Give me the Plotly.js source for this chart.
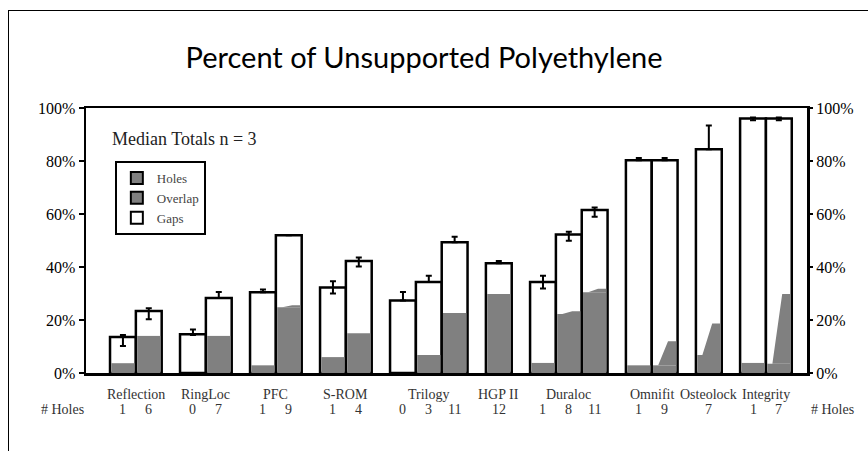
<!DOCTYPE html>
<html><head><meta charset="utf-8">
<script src="https://cdn.plot.ly/plotly-3.0.1.min.js"></script>
<style>html,body{margin:0;padding:0;background:#fff;overflow:hidden}
#chart{position:absolute;left:0;top:0;width:868px;height:451px}
#frame{position:absolute;left:8px;top:10px;width:900px;height:500px;border-left:1.5px solid #000;border-top:1.5px solid #000;pointer-events:none}
</style></head><body>
<div id="chart"></div><div id="frame"></div>
<script>
// ---- data ----
const groups = ['Reflection','RingLoc','PFC','S-ROM','Trilogy','HGP II','Duraloc','Omnifit','Osteolock','Integrity'];
const barGroup = [0,0,1,1,2,2,3,3,4,4,4,5,6,6,6,7,7,8,9,9];
const barHoles = ['1','6','0','7','1','9','1','4','0','3','11','12','1','8','11','1','9','7','1','7'];
const totals   = [13.6,23.4,14.6,28.3,30.5,52.0,32.3,42.3,27.4,34.3,49.3,41.4,34.3,52.3,61.5,80.3,80.3,84.4,96.0,96.0];
const errPlus  = [0.7,1.0,1.8,2.3,1.0,0,2.3,1.3,3.2,2.4,2.1,0.9,2.4,1.0,1.0,0.8,0.8,9.0,0.4,0.4];
const errMinus = [3.4,3.1,0.3,0,0,0,2.3,2.1,0,0,0,0,2.4,2.4,2.5,0,0,0,0.6,0.6];
const holesPct = [3.7,14.0,0,14.0,2.9,24.8,6.0,15.0,0,6.8,22.6,29.8,3.8,22.3,30.5,2.9,2.9,6.8,3.8,3.5];
const grayTop  = [3.7,14.0,0,14.0,2.9,25.6,6.0,15.0,0,6.8,22.6,29.8,3.8,23.3,31.8,2.9,12.0,18.7,3.8,29.8];
const yTicks = [0,20,40,60,80,100];

// ---- layout helpers ----
const GAP = 0.71, INSET = 0.05, GRAY = '#808080';
const xc = barGroup.map((g,i)=> i + g*GAP + 0.5);
const groupCenters = groups.map((_,g)=>{
  const xs = xc.filter((_,i)=>barGroup[i]===g);
  return (Math.min(...xs)+Math.max(...xs))/2;
});
const ox=[], oy=[];
xc.forEach((c,i)=>{
  if (grayTop[i] > holesPct[i]) {
    const L=c-0.5, R=c+0.5;
    ox.push(L+INSET, L+0.25, L+0.63, R-INSET, R-INSET, null);
    oy.push(holesPct[i], holesPct[i], grayTop[i], grayTop[i], holesPct[i], null);
  }
});
const SERIF = '"Liberation Serif", "DejaVu Serif", serif';

const traces = [
  {type:'bar', x:xc, y:totals, width:1, marker:{color:'#fff', line:{color:'#000', width:2.5}},
   error_y:{type:'data', symmetric:false, array:errPlus, arrayminus:errMinus, color:'#000', thickness:2, width:3},
   showlegend:false, hoverinfo:'y'},
  {type:'bar', x:xc, y:holesPct, width:1-2*INSET, marker:{color:GRAY, line:{width:0}}, showlegend:false, hoverinfo:'y'},
  {type:'scatter', mode:'lines', x:ox, y:oy, fill:'toself', fillcolor:GRAY, line:{width:0, color:GRAY}, showlegend:false, hoverinfo:'skip'},
  {type:'bar', name:'Holes', x:[null], y:[null], marker:{color:GRAY, line:{color:'#000', width:2}}},
  {type:'bar', name:'Overlap', x:[null], y:[null], marker:{color:GRAY, line:{color:'#000', width:2}}},
  {type:'bar', name:'Gaps', x:[null], y:[null], marker:{color:'#fff', line:{color:'#000', width:2}}},
  {type:'scatter', x:[null], y:[null], yaxis:'y2', showlegend:false, hoverinfo:'skip'}
];

const annotations = [
  {xref:'paper', yref:'paper', x:0.033, y:0.883, xanchor:'left', yanchor:'middle', showarrow:false,
   text:'Median Totals n = 3', font:{family:SERIF, size:18, color:'#222'}},
  {xref:'paper', yref:'paper', x:-0.0326, xanchor:'center', y:0, yshift:-36, yanchor:'middle', showarrow:false,
   text:'# Holes', font:{family:SERIF, size:14, color:'#333'}},
  {xref:'paper', yref:'paper', x:1.035, xanchor:'center', y:0, yshift:-36, yanchor:'middle', showarrow:false,
   text:'# Holes', font:{family:SERIF, size:14, color:'#333'}}
];
groups.forEach((g,i)=>annotations.push({xref:'x', yref:'paper', x:groupCenters[i], xanchor:'center', y:0, yshift:-21, yanchor:'middle',
  showarrow:false, text:g, font:{family:SERIF, size:14, color:'#333'}}));
barHoles.forEach((h,i)=>annotations.push({xref:'x', yref:'paper', x:xc[i], xanchor:'center', y:0, yshift:-36, yanchor:'middle',
  showarrow:false, text:h, font:{family:SERIF, size:14, color:'#333'}}));

const yCommon = {range:[0,100], tickvals:yTicks, ticktext:yTicks.map(v=>v+'%'), ticks:'outside', ticklen:5,
  tickwidth:2, tickcolor:'#000', showgrid:false, zeroline:false, fixedrange:true,
  tickfont:{family:SERIF, size:16, color:'#000'}};

const layout = {
  width:868, height:451,
  margin:{l:86, r:61, t:108, b:78},
  paper_bgcolor:'rgba(0,0,0,0)', plot_bgcolor:'#fff',
  barmode:'overlay',
  title:{text:'Percent of Unsupported Polyethylene', xref:'container', x:0.4885, xanchor:'center',
    yref:'container', y:0.871, yanchor:'middle', font:{family:'Lato, "Noto Sans", sans-serif', size:29, color:'#000'}},
  xaxis:{range:[-0.93, 26.98], showticklabels:false, ticks:'', showgrid:false, zeroline:false,
    showline:true, linewidth:2.5, linecolor:'#000', mirror:true, fixedrange:true},
  yaxis:Object.assign({showline:true, linewidth:2.5, linecolor:'#000', mirror:true}, yCommon),
  yaxis2:Object.assign({overlaying:'y', side:'right', showline:false}, yCommon),
  legend:{x:0.04, y:0.80, xanchor:'left', yanchor:'top', bgcolor:'#fff', bordercolor:'#000', borderwidth:2,
    font:{family:SERIF, size:13, color:'#444'}, traceorder:'normal', itemwidth:30, tracegroupgap:0},
  annotations:annotations,
  showlegend:true
};
Plotly.newPlot('chart', traces, layout, {displayModeBar:false, staticPlot:true});
</script></body></html>
